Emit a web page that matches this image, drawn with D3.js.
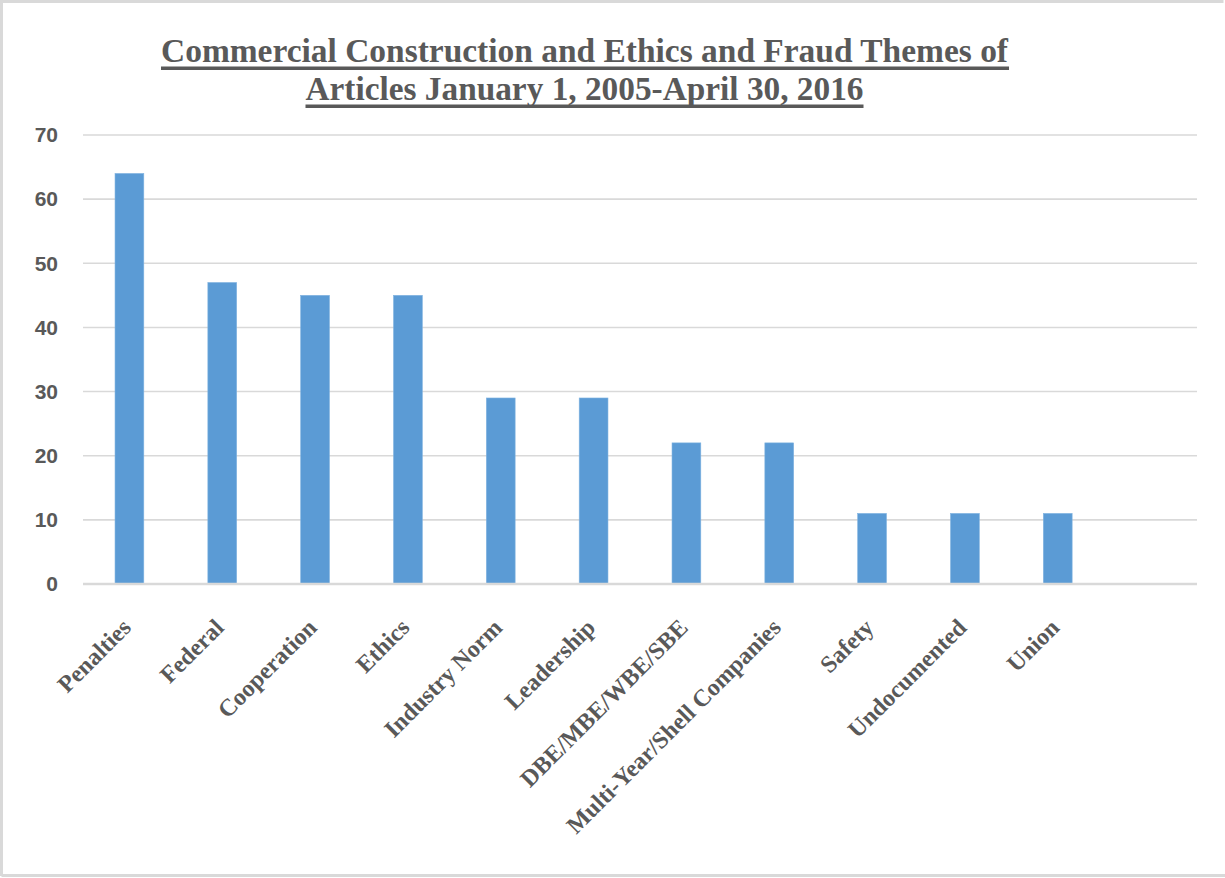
<!DOCTYPE html>
<html>
<head>
<meta charset="utf-8">
<script src="https://cdn.jsdelivr.net/npm/d3@7"></script>
<style>
  html, body { margin: 0; padding: 0; background: #fff; }
  svg { display: block; }
</style>
</head>
<body>
<svg id="chart" width="1225" height="878"></svg>
<script>
const titleLines = [
  "Commercial Construction and Ethics and Fraud Themes of",
  "Articles January 1, 2005-April 30, 2016"
];
const categories = ["Penalties", "Federal", "Cooperation", "Ethics", "Industry Norm", "Leadership",
  "DBE/MBE/WBE/SBE", "Multi-Year/Shell Companies", "Safety", "Undocumented", "Union"];
const values = [64, 47, 45, 45, 29, 29, 22, 22, 11, 11, 11];
const yTicks = [0, 10, 20, 30, 40, 50, 60, 70];

const W = 1225, H = 878;
const plot = { left: 83, right: 1197, top: 135, bottom: 584 };
const textColor = "#595959";
const gridColor = "#d9d9d9";
const barColor = "#5b9bd5";

const svg = d3.select("#chart");
svg.append("rect").attr("x", 0).attr("y", 0).attr("width", W).attr("height", H).attr("fill", "#fff");

// outer frame (left, top, bottom)
svg.append("path")
  .attr("d", `M1.5,876 L1.5,1.5 L1223.5,1.5 M1.5,875.5 L1225,875.5`)
  .attr("fill", "none").attr("stroke", gridColor).attr("stroke-width", 3);

// one extra empty slot at the end of the category axis
const xDomain = categories.concat(["__empty__"]);
const x = d3.scaleBand().domain(xDomain).range([plot.left, plot.right])
  .paddingInner(0.69).paddingOuter(0.345);
const y = d3.scaleLinear().domain([0, 70]).range([plot.bottom, plot.top]);

// gridlines
svg.append("g").selectAll("line").data(yTicks.filter(d => d !== 0)).join("line")
  .attr("x1", plot.left).attr("x2", plot.right)
  .attr("y1", d => y(d)).attr("y2", d => y(d))
  .attr("stroke", gridColor).attr("stroke-width", 1.6);

// y axis labels
const yAxis = d3.axisLeft(y).tickValues(yTicks).tickSize(0).tickPadding(0);
const yg = svg.append("g").attr("transform", `translate(58,0)`).call(yAxis);
yg.select(".domain").remove();
yg.selectAll("text")
  .attr("fill", textColor)
  .style("font-family", "'Liberation Sans', Arial, sans-serif")
  .style("font-weight", "bold")
  .style("font-size", "21px");

// bars
svg.append("g").selectAll("rect").data(categories).join("rect")
  .attr("x", d => x(d))
  .attr("width", x.bandwidth())
  .attr("y", (d, i) => y(values[i]))
  .attr("height", (d, i) => y(0) - y(values[i]))
  .attr("fill", barColor)
  .attr("stroke", "#7fb2e0").attr("stroke-width", 0.6);

// zero line
svg.append("line")
  .attr("x1", plot.left).attr("x2", plot.right)
  .attr("y1", y(0)).attr("y2", y(0))
  .attr("stroke", gridColor).attr("stroke-width", 2.4);

// x labels
svg.append("g").selectAll("text").data(categories).join("text")
  .attr("transform", d => `translate(${x(d) + x.bandwidth() / 2 + 3},629) rotate(-45)`)
  .attr("text-anchor", "end")
  .attr("fill", textColor)
  .style("font-family", "'Liberation Serif', 'Times New Roman', serif")
  .style("font-weight", "bold")
  .style("font-size", "24px")
  .text(d => d);

// title with underline
const titleG = svg.append("g");
const titleBase = [62, 100];
const titleLen = [847, 558];
titleLines.forEach((t, i) => {
  const txt = titleG.append("text")
    .attr("x", 584.5).attr("y", titleBase[i])
    .attr("text-anchor", "middle")
    .attr("fill", textColor)
    .attr("textLength", titleLen[i])
    .attr("lengthAdjust", "spacingAndGlyphs")
    .style("font-family", "'Liberation Serif', 'Times New Roman', serif")
    .style("font-weight", "bold")
    .style("font-size", "33px")
    .text(t);
  const bb = txt.node().getBBox();
  titleG.append("rect")
    .attr("x", bb.x).attr("width", bb.width)
    .attr("y", titleBase[i] + 4.5).attr("height", 3.5)
    .attr("fill", textColor);
});
</script>
</body>
</html>
